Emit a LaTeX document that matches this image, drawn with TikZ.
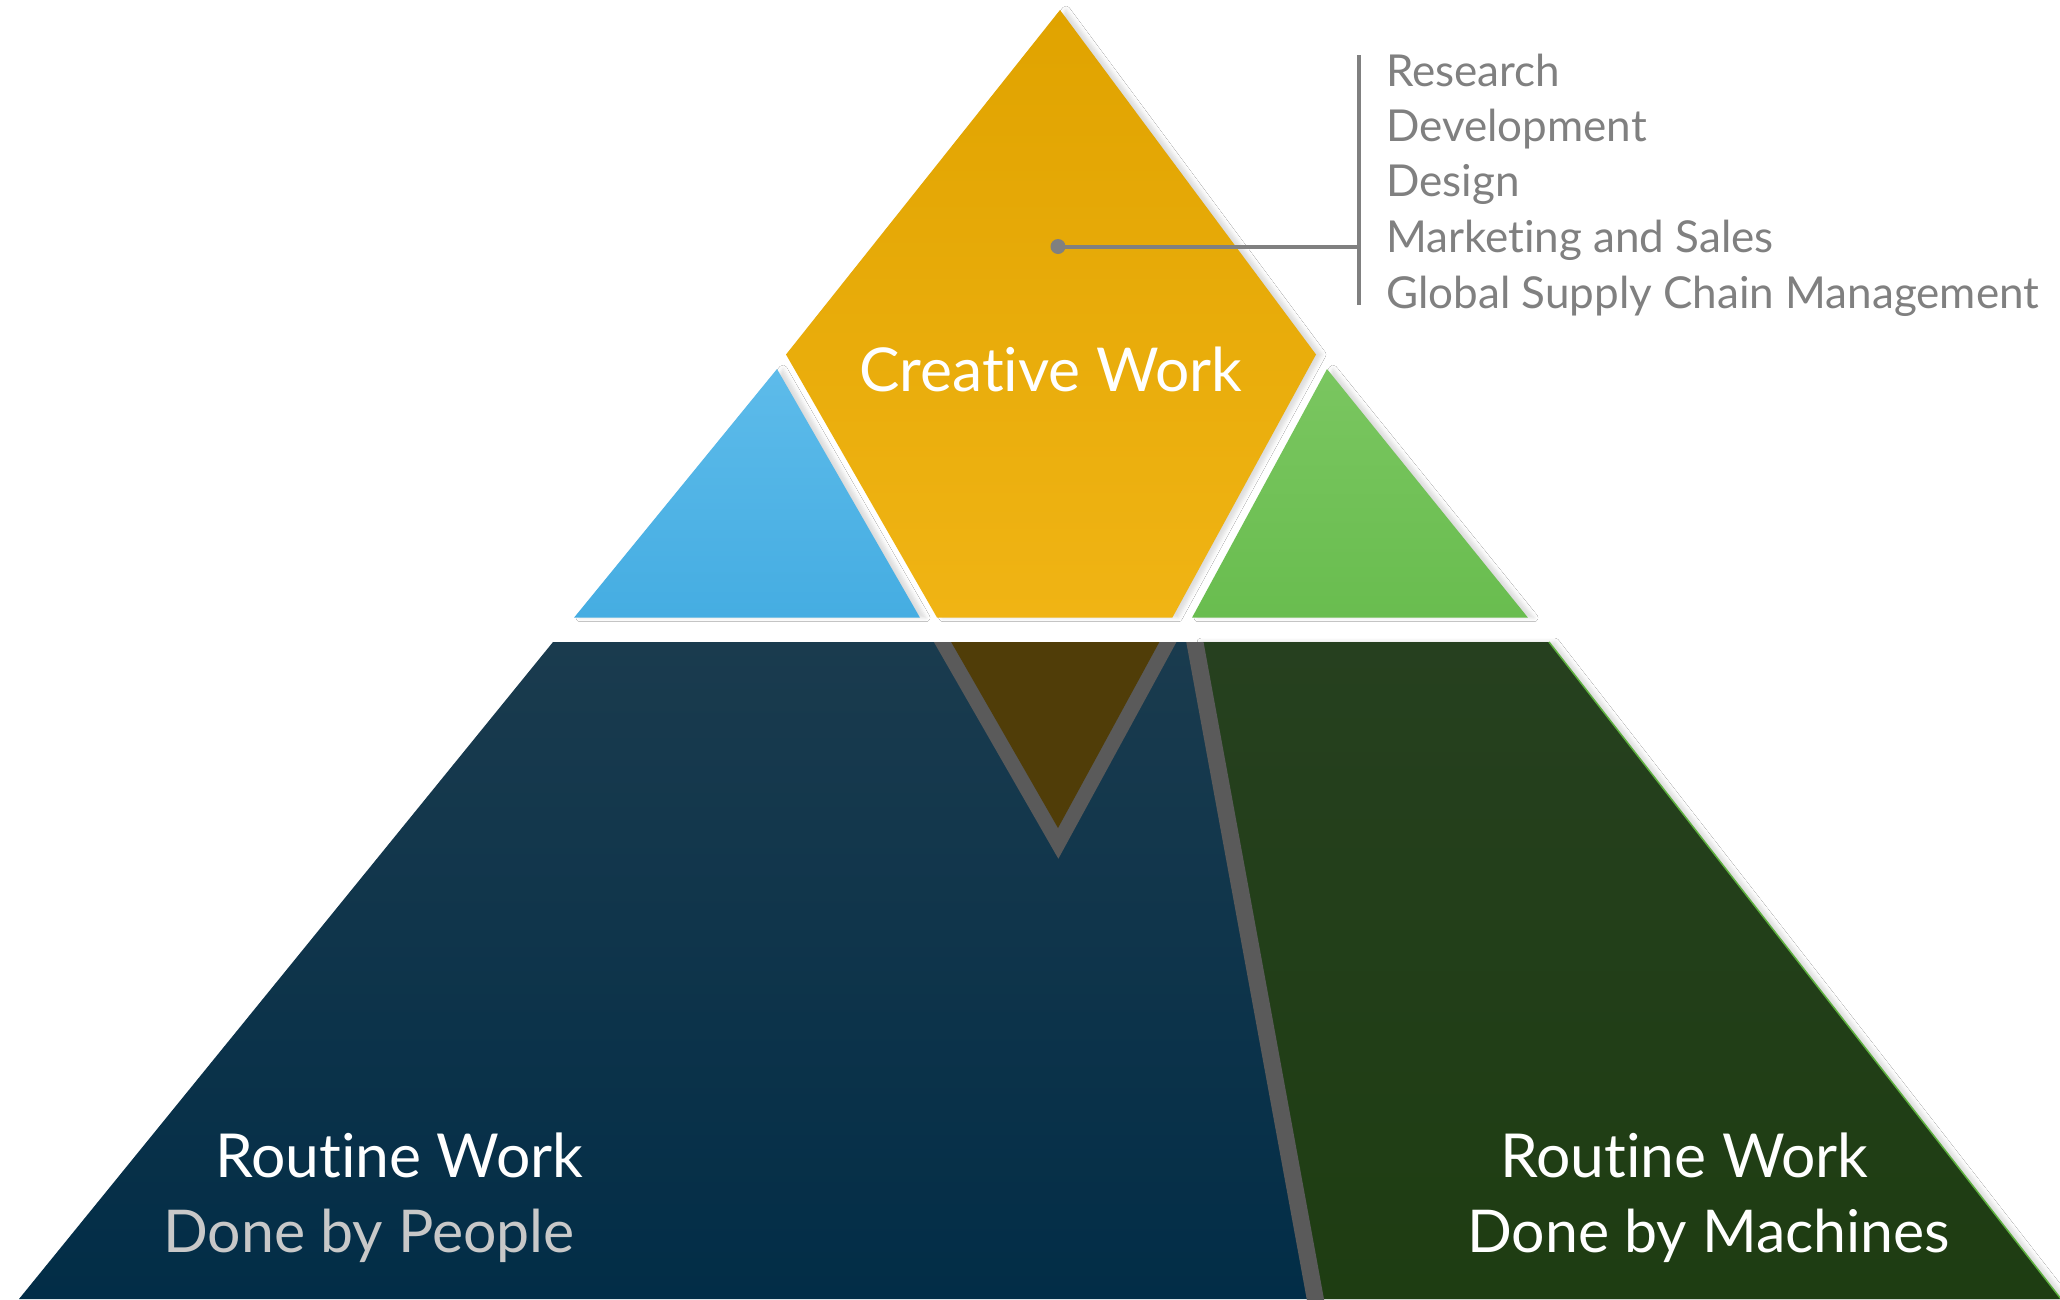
\documentclass[tikz,border=0pt]{standalone}
\usepackage{fontspec}
\setmainfont{Lato}[Ligatures=CommonOff]
\usetikzlibrary{shadows.blur}
\definecolor{goldT}{HTML}{E0A300}
\definecolor{goldB}{HTML}{F0B414}
\definecolor{blueT}{HTML}{5DBBEA}
\definecolor{blueB}{HTML}{45ADE2}
\definecolor{greenT}{HTML}{7AC660}
\definecolor{greenB}{HTML}{69BD4F}
\definecolor{navyT}{HTML}{1A3B4E}
\definecolor{navyB}{HTML}{022D47}
\definecolor{forestT}{HTML}{26401F}
\definecolor{forestB}{HTML}{1E3D12}
\definecolor{brownfill}{HTML}{503D08}
\definecolor{rimgray}{HTML}{5A5A5A}
\definecolor{listgray}{HTML}{808080}
\definecolor{peoplegray}{HTML}{C8C8C8}
\definecolor{edgegreen}{HTML}{5DB03E}
\begin{document}
\begin{tikzpicture}[x=1pt,y=-1pt,
  softshadow/.style={blur shadow={shadow xshift=6pt, shadow yshift=0pt, shadow blur radius=4pt, shadow opacity=14}},
  bigtext/.style={font=\fontsize{60.6}{70}\selectfont, inner sep=0pt},
  donetext/.style={font=\fontsize{59}{70}\selectfont, inner sep=0pt},
  titletext/.style={font=\fontsize{60.5}{72}\selectfont, inner sep=0pt, text=white},
  listtext/.style={font=\fontsize{44}{52}\selectfont, inner sep=0pt, text=listgray, anchor=base west},
  guide/.style={draw=listgray, line width=4pt}]
\useasboundingbox (0,0) rectangle (2060,1299);
\fill[white] (0,0) rectangle (2060,1299);

% upper row
\path[softshadow, top color=blueT, bottom color=blueB]
  (777,369) -- (574,617.7) -- (920,617.7) -- cycle;
\path[softshadow, top color=greenT, bottom color=greenB]
  (1327,369) -- (1192,617.7) -- (1528,617.7) -- cycle;
\path[softshadow, top color=goldT, bottom color=goldB]
  (1060,10) -- (786,354.5) -- (937.1,617.7) -- (1172.3,617.7) -- (1316,354.5) -- cycle;

% lower row
\path[top color=navyT, bottom color=navyB]
  (553,642) -- (1195,642) -- (1315,1299) -- (19,1299) -- cycle;
\path[softshadow, top color=forestT, bottom color=forestB]
  (1195,642) -- (1549,642) -- (2061,1299) -- (1315,1299) -- cycle;
\draw[edgegreen, line width=1.5pt] (1549,642) -- (2061,1299);

\begin{scope}
  \clip (0,642) rectangle (2060,1299);
  \draw[rimgray, line width=30pt, miter limit=10, line join=miter] (786,354.5) -- (1058,828) -- (1316,354.5);
  \fill[brownfill] (786,354.5) -- (1058,828) -- (1316,354.5) -- cycle;
  \draw[rimgray, line width=17pt] (1189,610) -- (1321,1330);
\end{scope}

% labels
\node[titletext, anchor=base] (creative) at (1051,391) {Creative Work};
\node[bigtext, text=white, anchor=base west] (rw1) at (215,1177.7) {Routine Work};
\node[donetext, text=peoplegray, anchor=base west] (dp) at (163,1252) {Done by People};
\node[bigtext, text=white, anchor=base west] (rw2) at (1500,1177.7) {Routine Work};
\node[donetext, text=white, anchor=base west] (dm) at (1467,1252) {Done by Machines};

% callout
\node[circle, fill=listgray, minimum size=15pt, inner sep=0pt] (dot) at (1058,246.5) {};
\coordinate (bj) at (1359,246.5);
\coordinate (bt) at (1359,55);
\coordinate (bb) at (1359,305);
\draw[guide] (dot.center) -- (bj);
\draw[guide] (bt) -- (bb);

\node[listtext] (l1) at (1386,86.7) {Research};
\node[listtext] (l2) at (1386,141.7) {Development};
\node[listtext] (l3) at (1386,196.7) {Design};
\node[listtext] (l4) at (1386,252.7) {Marketing and Sales};
\node[listtext] (l5) at (1386,308) {Global Supply Chain Management};
\end{tikzpicture}
\end{document}
